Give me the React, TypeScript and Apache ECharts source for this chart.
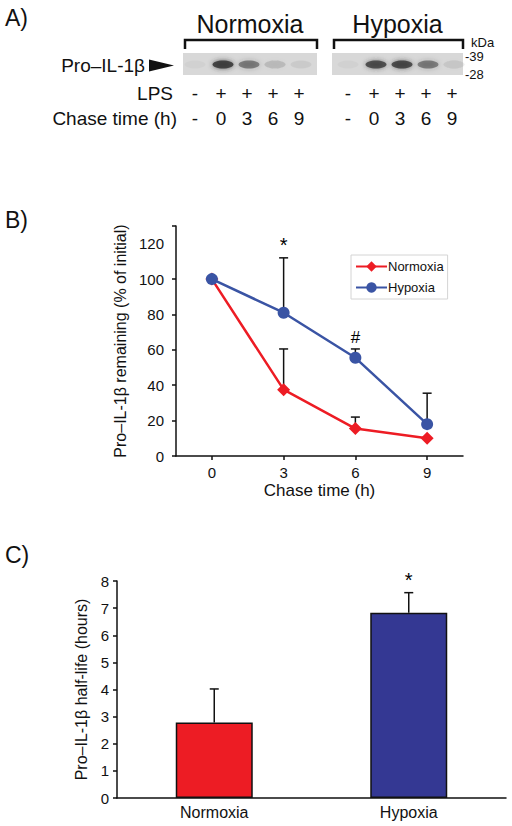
import React, { useEffect, useRef } from 'react';
import * as echarts from 'echarts';

const FONT = '"Liberation Sans", Arial, Helvetica, sans-serif';
const INK = '#111111';
const RED = '#ed1c24';
const BLUE = '#3a54a4';
const NAVY = '#343893';

// ---- Panel A (blot) ----
const blotGroups = ['Normoxia', 'Hypoxia'];
const lpsSigns = ['-', '+', '+', '+', '+'];
const chaseLabels = ['-', '0', '3', '6', '9'];
const normoxiaBands = [0.03, 0.85, 0.5, 0.16, 0.06];
const hypoxiaBands = [0.03, 0.75, 0.78, 0.5, 0.1];
const kdaMarkers = ['-39', '-28'];

// ---- Panel B (remaining) ----
const chaseTimes = [0, 3, 6, 9];
const normoxiaRemaining = [100, 37.5, 15.5, 10];
const hypoxiaRemaining = [100, 81, 55.5, 18];
const normoxiaRemainingUpper: (number | null)[] = [null, 60.5, 22, null];
const hypoxiaRemainingUpper: (number | null)[] = [null, 112, 60.5, 35.5];
const remainingMarkTimes = [3, 6];
const remainingMarkValues = [112, 60.5];
const remainingMarkTexts = ['*', '#'];
const remainingYLabels = [0, 20, 40, 60, 80, 100, 120];
const remainingYTicks = [0, 20, 40, 60, 80, 100, 130];

// ---- Panel C (half-life) ----
const halfLifeCategories = ['Normoxia', 'Hypoxia'];
const halfLifeValues = [2.78, 6.83];
const halfLifeUpper = [4.02, 7.57];
const halfLifeMarks = ['', '*'];
const halfLifeColors = [RED, NAVY];

function buildOption(): any {
  const graphics: any[] = [];
  const txt = (text: string, x: number, y: number, size: number, align = 'left') => ({
    type: 'text',
    x,
    y,
    style: { text, fontSize: size, fontFamily: FONT, fill: INK, align, verticalAlign: 'middle' },
  });

  // panel letters
  graphics.push(txt('A)', 5, 18, 23));
  graphics.push(txt('B)', 5, 220, 23));
  graphics.push(txt('C)', 5, 555, 23));

  // blot layout
  const groupLeft = [183, 332];
  const stripWidth = [134, 131];
  const laneStart = [195, 348];
  const laneStep = 26;
  const bandSets = [normoxiaBands, hypoxiaBands];
  blotGroups.forEach((g, gi) => {
    const l = groupLeft[gi];
    const w = stripWidth[gi];
    const mid = l + w / 2;
    graphics.push(txt(g, mid, 24, 25, 'center'));
    graphics.push({
      type: 'polyline',
      shape: { points: [[l + 2, 49], [l + 2, 40], [l + w, 40], [l + w, 49]] },
      style: { stroke: INK, lineWidth: 2.5, fill: 'none' },
    });
    graphics.push({
      type: 'rect',
      shape: { x: l, y: 53, width: w, height: 22 },
      style: { fill: '#d8d8d8' },
    });
    bandSets[gi].forEach((v, i) => {
      const cx = laneStart[gi] + i * laneStep + (i === 0 ? 0 : 2);
      graphics.push({
        type: 'ellipse',
        shape: { cx, cy: 64.5, rx: 10.5, ry: 4 },
        style: {
          fill: `rgba(50,50,50,${v})`,
          shadowBlur: 5,
          shadowColor: `rgba(50,50,50,${v})`,
        },
      });
    });
    lpsSigns.forEach((s, i) => {
      graphics.push(txt(s, laneStart[gi] + i * laneStep, 93, 19, 'center'));
    });
    chaseLabels.forEach((s, i) => {
      graphics.push(txt(s, laneStart[gi] + i * laneStep, 118, 19, 'center'));
    });
  });
  graphics.push(txt('Pro\u2013IL-1\u03b2', 145, 65, 19, 'right'));
  graphics.push({
    type: 'polygon',
    shape: { points: [[149, 59.5], [174, 65.5], [149, 71.5]] },
    style: { fill: INK },
  });
  graphics.push(txt('LPS', 173, 93, 19, 'right'));
  graphics.push(txt('Chase time (h)', 177, 118, 19, 'right'));
  graphics.push(txt('kDa', 471, 42, 13));
  graphics.push(txt(kdaMarkers[0], 465, 56, 13));
  graphics.push(txt(kdaMarkers[1], 465, 74, 13));

  const errRender = (params: any, api: any) => {
    const x = api.value(0);
    const p0 = api.coord([x, api.value(1)]);
    const p1 = api.coord([x, api.value(2)]);
    const w = 4.5;
    return {
      type: 'group',
      children: [
        { type: 'line', shape: { x1: p0[0], y1: p0[1], x2: p1[0], y2: p1[1] }, style: { stroke: INK, lineWidth: 1.5 } },
        { type: 'line', shape: { x1: p1[0] - w, y1: p1[1], x2: p1[0] + w, y2: p1[1] }, style: { stroke: INK, lineWidth: 1.5 } },
      ],
    };
  };

  const markRender = (params: any, api: any) => {
    const p = api.coord([api.value(0), api.value(1)]);
    const size = api.value(3);
    return {
      type: 'text',
      x: p[0],
      y: p[1] - 3,
      style: {
        text: String(api.value(2)),
        fontSize: size,
        fontFamily: FONT,
        fill: '#000000',
        align: 'center',
        verticalAlign: 'bottom',
      },
    };
  };

  const remErr: number[][] = [];
  chaseTimes.forEach((t, i) => {
    if (normoxiaRemainingUpper[i] != null) remErr.push([t, normoxiaRemaining[i], normoxiaRemainingUpper[i] as number]);
  });
  chaseTimes.forEach((t, i) => {
    if (hypoxiaRemainingUpper[i] != null) remErr.push([t, hypoxiaRemaining[i], hypoxiaRemainingUpper[i] as number]);
  });

  const axisLine = { onZero: false, lineStyle: { color: INK, width: 1.5 } };
  const axisTick = { length: 4, lineStyle: { color: INK, width: 1.5 } };
  const axisLabel = { color: INK, fontSize: 15, fontFamily: FONT };

  return {
    animation: false,
    backgroundColor: '#ffffff',
    textStyle: { fontFamily: FONT },
    graphic: graphics,
    legend: {
      data: ['Normoxia', 'Hypoxia'],
      orient: 'vertical',
      left: 351,
      top: 255,
      itemWidth: 31,
      itemHeight: 13,
      itemGap: 8,
      padding: [5, 4, 5, 4],
      borderColor: '#d4d4d4',
      borderWidth: 1,
      textStyle: { color: INK, fontSize: 13, fontFamily: FONT, padding: [0, 0, 0, -4] },
    },
    grid: [
      { left: 176, top: 226, width: 287, height: 230 },
      { left: 117, top: 581, width: 389, height: 217 },
    ],
    xAxis: [
      {
        type: 'value',
        gridIndex: 0,
        min: -1.5,
        max: 10.5,
        splitLine: { show: false },
        axisLine,
        axisTick: { ...axisTick, customValues: chaseTimes },
        axisLabel: { ...axisLabel, margin: 9, customValues: chaseTimes },
        name: 'Chase time (h)',
        nameLocation: 'middle',
        nameGap: 26,
        nameTextStyle: { color: INK, fontSize: 17, fontFamily: FONT },
      },
      {
        type: 'category',
        gridIndex: 1,
        data: halfLifeCategories,
        axisLine,
        axisTick: { show: false },
        axisLabel: { ...axisLabel, fontSize: 16, margin: 6 },
      },
    ],
    yAxis: [
      {
        type: 'value',
        gridIndex: 0,
        min: 0,
        max: 130,
        interval: 10,
        splitLine: { show: false },
        axisLine: { ...axisLine, show: true },
        axisTick: { ...axisTick, show: true, customValues: remainingYTicks },
        axisLabel: { ...axisLabel, margin: 12, customValues: remainingYLabels },
        name: 'Pro\u2013IL-1\u03b2 remaining (% of initial)',
        nameLocation: 'middle',
        nameGap: 40,
        nameTextStyle: { color: INK, fontSize: 16, fontFamily: FONT },
      },
      {
        type: 'value',
        gridIndex: 1,
        min: 0,
        max: 8,
        interval: 1,
        splitLine: { show: false },
        axisLine: { ...axisLine, show: true },
        axisTick: { ...axisTick, show: true },
        axisLabel: { ...axisLabel, margin: 8 },
        name: 'Pro\u2013IL-1\u03b2 half-life (hours)',
        nameLocation: 'middle',
        nameGap: 21,
        nameTextStyle: { color: INK, fontSize: 16, fontFamily: FONT },
      },
    ],
    series: [
      {
        type: 'custom',
        name: 'remaining-error',
        xAxisIndex: 0,
        yAxisIndex: 0,
        renderItem: errRender,
        data: remErr,
        encode: { x: 0, y: [1, 2] },
        z: 1,
      },
      {
        type: 'line',
        name: 'Normoxia',
        xAxisIndex: 0,
        yAxisIndex: 0,
        data: chaseTimes.map((t, i) => [t, normoxiaRemaining[i]]),
        symbol: 'diamond',
        symbolSize: 13,
        color: RED,
        lineStyle: { color: RED, width: 2.5 },
        itemStyle: { color: RED },
        z: 3,
      },
      {
        type: 'line',
        name: 'Hypoxia',
        xAxisIndex: 0,
        yAxisIndex: 0,
        data: chaseTimes.map((t, i) => [t, hypoxiaRemaining[i]]),
        symbol: 'circle',
        symbolSize: 12,
        color: BLUE,
        lineStyle: { color: BLUE, width: 2.5 },
        itemStyle: { color: BLUE },
        z: 4,
      },
      {
        type: 'custom',
        name: 'remaining-marks',
        xAxisIndex: 0,
        yAxisIndex: 0,
        renderItem: markRender,
        data: remainingMarkTimes.map((t, i) => [t, remainingMarkValues[i], remainingMarkTexts[i], remainingMarkTexts[i] === '*' ? 20 : 17]),
        encode: { x: 0, y: 1 },
        z: 5,
      },
      {
        type: 'bar',
        name: 'half-life',
        xAxisIndex: 1,
        yAxisIndex: 1,
        barWidth: 77,
        data: halfLifeValues.map((v, i) => ({
          value: v,
          itemStyle: { color: halfLifeColors[i], borderColor: INK, borderWidth: 1.5 },
        })),
        z: 2,
      },
      {
        type: 'custom',
        name: 'half-life-error',
        xAxisIndex: 1,
        yAxisIndex: 1,
        renderItem: errRender,
        data: halfLifeCategories.map((c, i) => [i, halfLifeValues[i], halfLifeUpper[i]]),
        encode: { x: 0, y: [1, 2] },
        z: 1,
      },
      {
        type: 'custom',
        name: 'half-life-marks',
        xAxisIndex: 1,
        yAxisIndex: 1,
        renderItem: markRender,
        data: halfLifeCategories.map((c, i) => [i, halfLifeUpper[i], halfLifeMarks[i], 20]),
        encode: { x: 0, y: 1 },
        z: 5,
      },
    ],
  };
}

export default function App() {
  const ref = useRef<HTMLDivElement>(null);
  useEffect(() => {
    if (!ref.current) return;
    const chart = echarts.init(ref.current, undefined, { renderer: 'svg' });
    chart.setOption(buildOption());
    return () => chart.dispose();
  }, []);
  return (
    <div
      ref={ref}
      style={{ position: 'absolute', left: 0, top: 0, width: 512, height: 826, background: '#fff' }}
    />
  );
}
